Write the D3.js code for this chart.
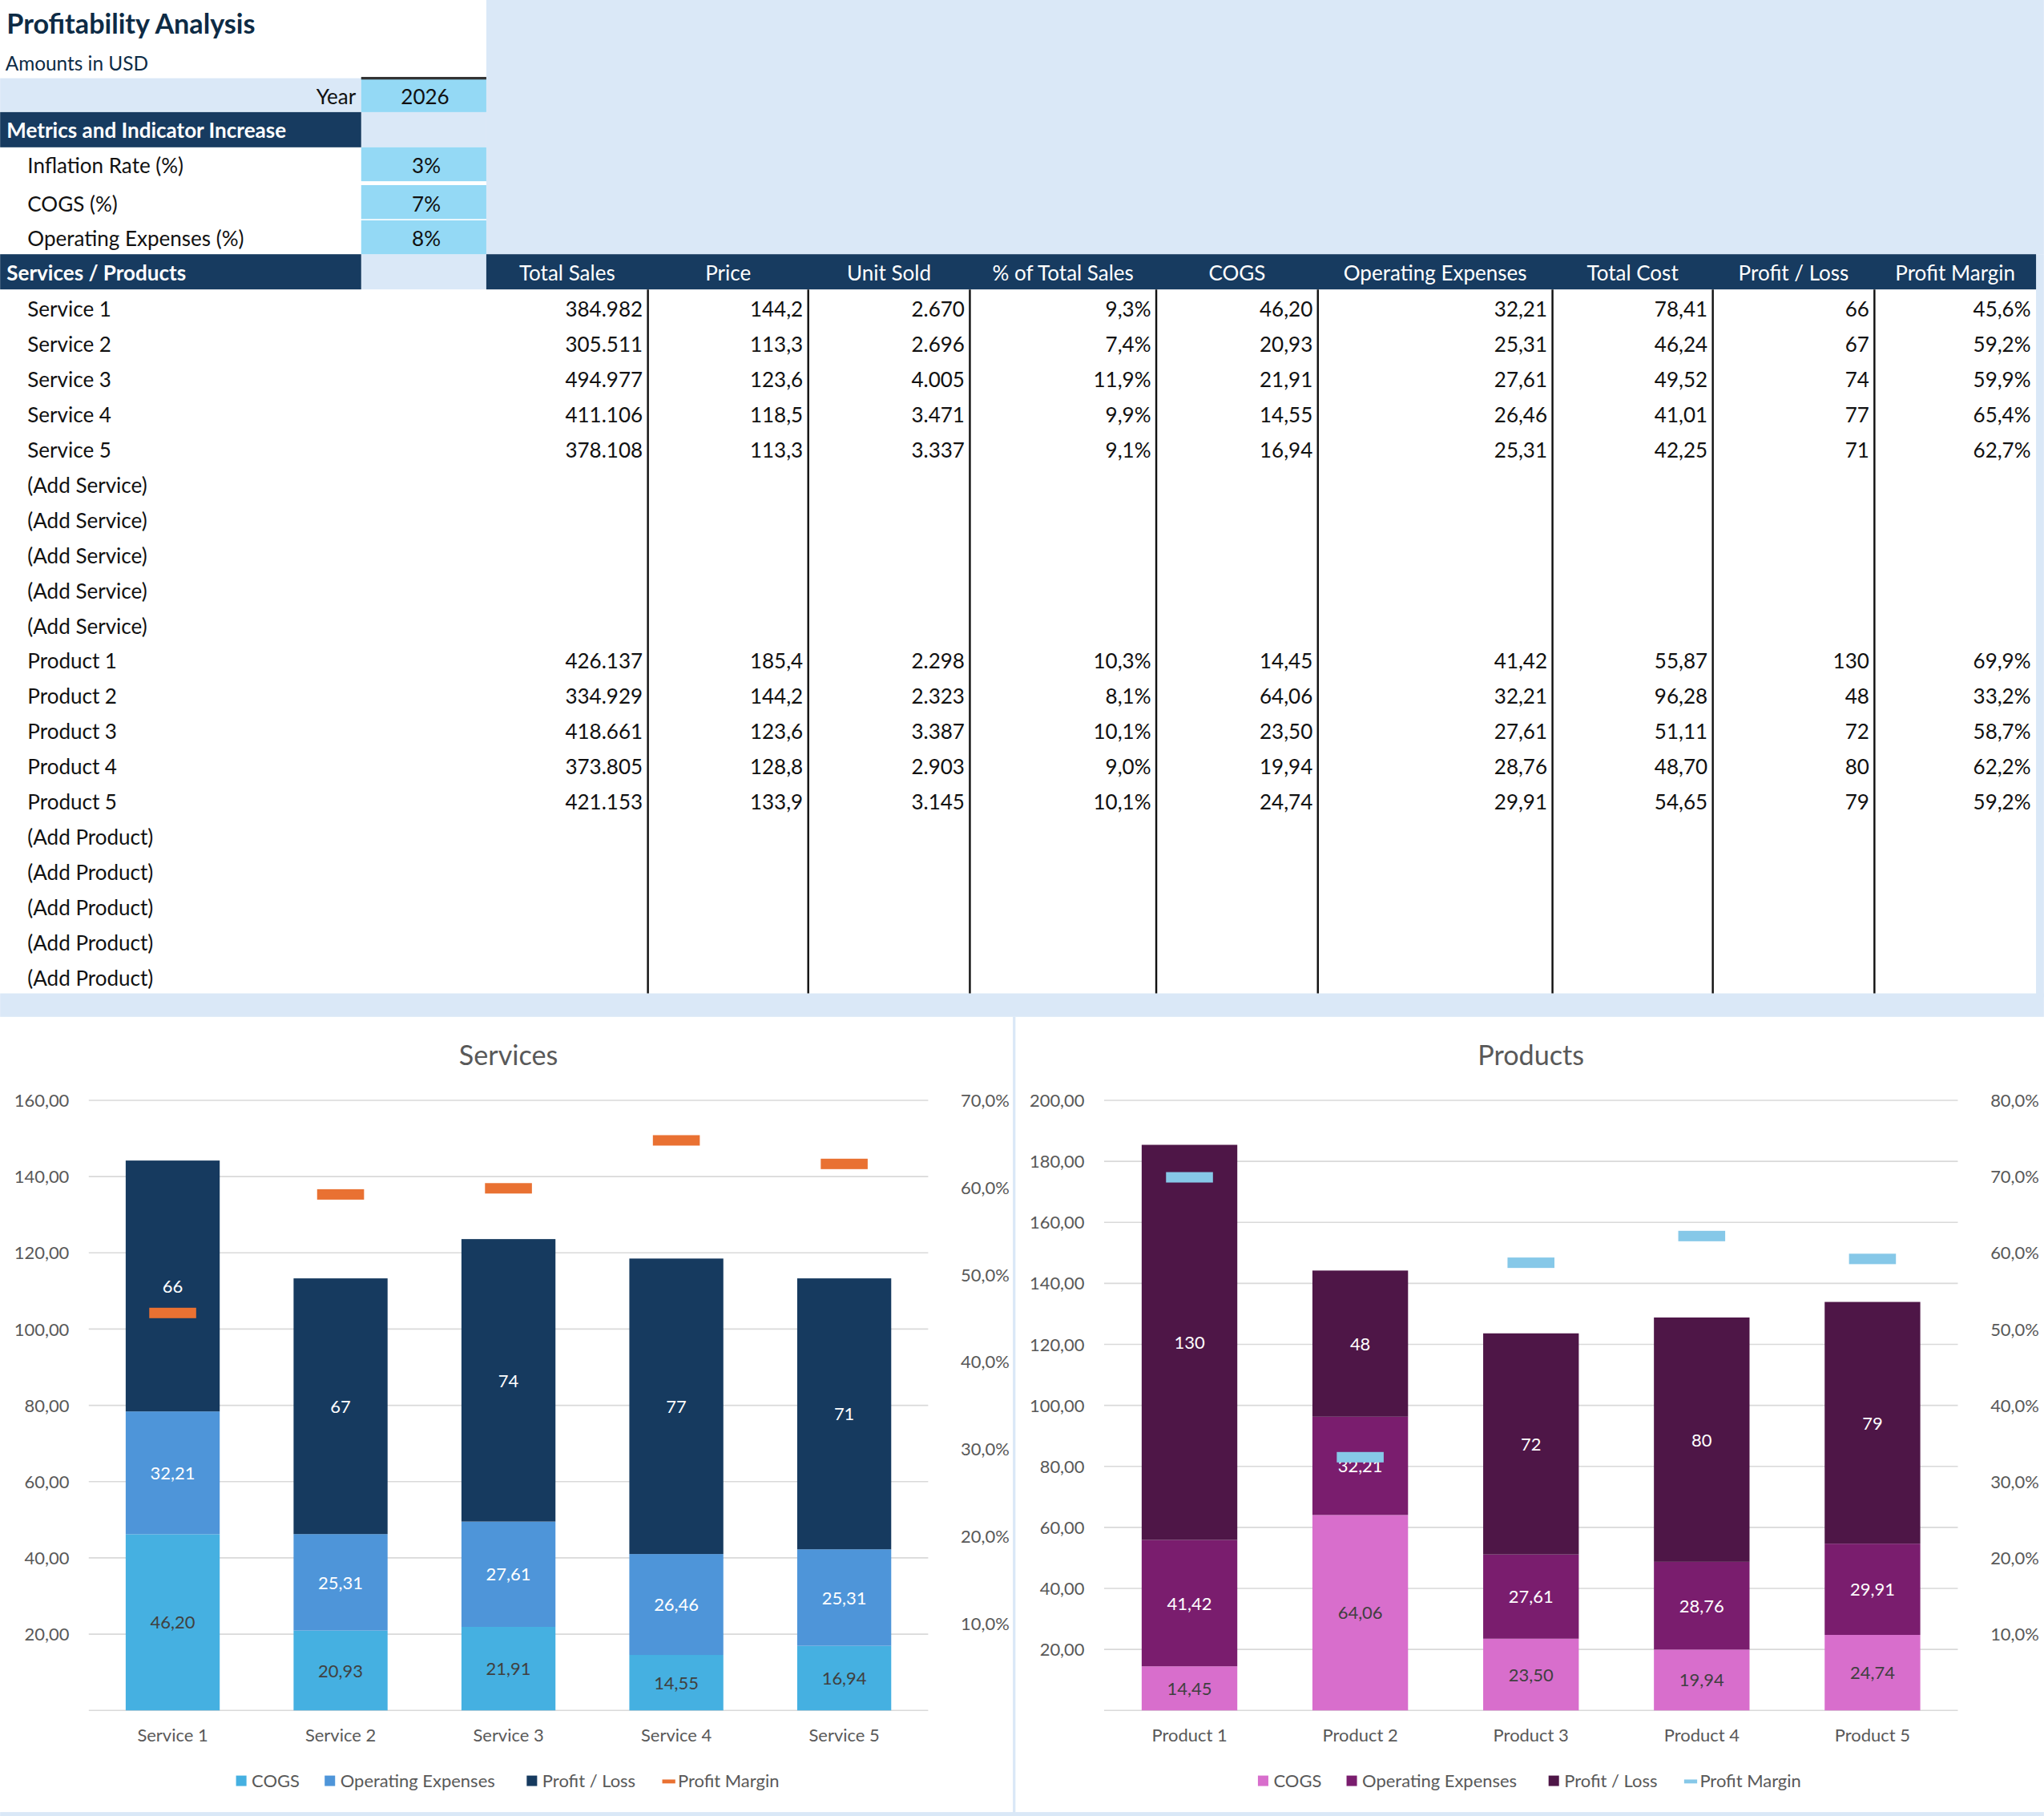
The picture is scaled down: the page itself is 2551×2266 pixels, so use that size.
<!DOCTYPE html>
<html><head><meta charset="utf-8">
<script src="https://cdn.jsdelivr.net/npm/d3@7"></script>
<style>
body{margin:0;background:#fff}
text{font-family:Lato,"Open Sans",sans-serif}
</style></head><body>
<script>
// datos de la tabla
var columnas = ["Total Sales","Price","Unit Sold","% of Total Sales","COGS","Operating Expenses","Total Cost","Profit / Loss","Profit Margin"];
var filas = ["Service 1","Service 2","Service 3","Service 4","Service 5","(Add Service)","(Add Service)","(Add Service)","(Add Service)","(Add Service)",
  "Product 1","Product 2","Product 3","Product 4","Product 5","(Add Product)","(Add Product)","(Add Product)","(Add Product)","(Add Product)"];
var totalSales = ["384.982","305.511","494.977","411.106","378.108","","","","","","426.137","334.929","418.661","373.805","421.153"];
var precio = ["144,2","113,3","123,6","118,5","113,3","","","","","","185,4","144,2","123,6","128,8","133,9"];
var unidades = ["2.670","2.696","4.005","3.471","3.337","","","","","","2.298","2.323","3.387","2.903","3.145"];
var pctVentas = ["9,3%","7,4%","11,9%","9,9%","9,1%","","","","","","10,3%","8,1%","10,1%","9,0%","10,1%"];
var cogsTxt = ["46,20","20,93","21,91","14,55","16,94","","","","","","14,45","64,06","23,50","19,94","24,74"];
var opexTxt = ["32,21","25,31","27,61","26,46","25,31","","","","","","41,42","32,21","27,61","28,76","29,91"];
var costeTxt = ["78,41","46,24","49,52","41,01","42,25","","","","","","55,87","96,28","51,11","48,70","54,65"];
var beneficioTxt = ["66","67","74","77","71","","","","","","130","48","72","80","79"];
var margenTxt = ["45,6%","59,2%","59,9%","65,4%","62,7%","","","","","","69,9%","33,2%","58,7%","62,2%","59,2%"];

// datos de las graficas
var servicios = ["Service 1","Service 2","Service 3","Service 4","Service 5"];
var servCogs = [46.20,20.93,21.91,14.55,16.94];
var servOpex = [32.21,25.31,27.61,26.46,25.31];
var servProfit = [65.79,67.06,74.08,77.49,71.05];
var servMargen = [0.456,0.592,0.599,0.654,0.627];
var productos = ["Product 1","Product 2","Product 3","Product 4","Product 5"];
var prodCogs = [14.45,64.06,23.50,19.94,24.74];
var prodOpex = [41.42,32.21,27.61,28.76,29.91];
var prodProfit = [129.53,47.92,72.49,80.10,79.25];
var prodMargen = [0.699,0.332,0.587,0.622,0.592];

var W = 1568, H = 1393;
var azulOsc = '#173b60', azulClaro = '#dae8f7', cian = '#94d9f5', tinta = '#0d2b45';

var svg = d3.select('body').append('svg')
  .attr('width',2551).attr('height',2266)
  .attr('viewBox','0 0 '+W+' '+H);

// fondos
svg.append('rect').attr('x',0).attr('y',0).attr('width',W).attr('height',H).attr('fill','#fff');
svg.append('rect').attr('x',373).attr('y',0).attr('width',W-373).attr('height',195).attr('fill',azulClaro);
svg.append('rect').attr('x',0).attr('y',60).attr('width',277).attr('height',26).attr('fill',azulClaro);
svg.append('rect').attr('x',277).attr('y',86).attr('width',96).attr('height',27).attr('fill',azulClaro);
svg.append('rect').attr('x',277).attr('y',195).attr('width',96).attr('height',27).attr('fill',azulClaro);
svg.append('rect').attr('x',1562).attr('y',195).attr('width',6).attr('height',570).attr('fill',azulClaro);
svg.append('rect').attr('x',0).attr('y',762).attr('width',W).attr('height',18).attr('fill',azulClaro);
svg.append('rect').attr('x',777).attr('y',780).attr('width',2).attr('height',H-780).attr('fill',azulClaro);
svg.append('rect').attr('x',0).attr('y',1390).attr('width',W).attr('height',3).attr('fill',azulClaro);

svg.append('text').text('Profitability Analysis').attr('x',5).attr('y',26)
  .attr('font-size',21).attr('font-weight','bold').attr('fill',tinta);
svg.append('text').text('Amounts in USD').attr('x',4).attr('y',54).attr('font-size',15).attr('fill',tinta);

// year + inputs
svg.append('rect').attr('x',277).attr('y',60).attr('width',96).attr('height',26).attr('fill',cian);
svg.append('rect').attr('x',277).attr('y',59).attr('width',96).attr('height',2).attr('fill','#333');
svg.append('text').text('Year').attr('x',273).attr('y',80).attr('text-anchor','end').attr('font-size',16).attr('fill','#111');
svg.append('text').text('2026').attr('x',326).attr('y',80).attr('text-anchor','middle').attr('font-size',16).attr('fill','#111');
svg.append('rect').attr('x',0).attr('y',86).attr('width',277).attr('height',27).attr('fill',azulOsc);
svg.append('text').text('Metrics and Indicator Increase').attr('x',5).attr('y',106)
  .attr('font-size',16).attr('font-weight','bold').attr('fill','#fff');

var entradas = [['Inflation Rate (%)','3%',113],['COGS (%)','7%',142],['Operating Expenses (%)','8%',169]];
entradas.forEach(function(e){
  svg.append('rect').attr('x',277).attr('y',e[2]).attr('width',96).attr('height',26).attr('fill',cian);
  svg.append('text').text(e[0]).attr('x',21).attr('y',e[2]+20).attr('font-size',16).attr('fill','#111');
  svg.append('text').text(e[1]).attr('x',327).attr('y',e[2]+20).attr('text-anchor','middle').attr('font-size',16).attr('fill','#111');
});

// cabecera tabla
var bordes = [373,497,620,744,887,1011,1191,1314,1438,1562];
svg.append('rect').attr('x',0).attr('y',195).attr('width',277).attr('height',27).attr('fill',azulOsc);
svg.append('rect').attr('x',373).attr('y',195).attr('width',1562-373).attr('height',27).attr('fill',azulOsc);
svg.append('text').text('Services / Products').attr('x',5).attr('y',215)
  .attr('font-size',16).attr('font-weight','bold').attr('fill','#fff');
columnas.forEach(function(c,i){
  svg.append('text').text(c).attr('x',(bordes[i]+bordes[i+1])/2).attr('y',215)
    .attr('text-anchor','middle').attr('font-size',16).attr('fill','#fff');
});
bordes.slice(1,9).forEach(function(x){
  svg.append('line').attr('x1',x).attr('x2',x).attr('y1',222).attr('y2',762).attr('stroke','#111').attr('stroke-width',1.5);
});

var escalaFila = d3.scaleLinear().domain([0,19]).range([243,756]);
var valores = [totalSales,precio,unidades,pctVentas,cogsTxt,opexTxt,costeTxt,beneficioTxt,margenTxt];
filas.forEach(function(f,i){
  svg.append('text').text(f).attr('x',21).attr('y',escalaFila(i)).attr('font-size',16).attr('fill','#111');
  valores.forEach(function(v,j){
    if(v[i]) svg.append('text').text(v[i]).attr('x',bordes[j+1]-4).attr('y',escalaFila(i))
      .attr('text-anchor','end').attr('font-size',16).attr('fill','#111');
  });
});

// graficas
function grafica(cfg){
  var g = svg.append('g');
  var x = d3.scaleBand().domain(cfg.cats).range([cfg.x0,cfg.x1]).paddingInner(0.44).paddingOuter(0.22);
  var y = d3.scaleLinear().domain([0,cfg.max]).range([1312,844]);
  var y2 = d3.scaleLinear().domain([0,cfg.maxPct]).range([1312,844]);
  g.append('text').text(cfg.titulo).attr('x',(cfg.x0+cfg.x1)/2).attr('y',817)
    .attr('text-anchor','middle').attr('font-size',21).attr('fill','#595959');
  var ticks = d3.range(cfg.paso,cfg.max+0.1,cfg.paso);
  ticks.forEach(function(t){
    g.append('line').attr('x1',cfg.x0).attr('x2',cfg.x1).attr('y1',y(t)).attr('y2',y(t)).attr('stroke','#d9d9d9');
    g.append('text').text(d3.format('.2f')(t).replace('.',',')).attr('x',cfg.x0-15).attr('y',y(t)+5)
      .attr('text-anchor','end').attr('font-size',13.5).attr('fill','#595959');
  });
  d3.range(0.1,cfg.maxPct+0.001,0.1).forEach(function(t){
    g.append('text').text(d3.format('.1f')(t*100).replace('.',',')+'%').attr('x',cfg.x1+25).attr('y',y2(t)+5)
      .attr('text-anchor','start').attr('font-size',13.5).attr('fill','#595959');
  });
  g.append('line').attr('x1',cfg.x0).attr('x2',cfg.x1).attr('y1',1312).attr('y2',1312).attr('stroke','#d9d9d9');

  var datos = cfg.cats.map(function(c,i){return {cat:c,cogs:cfg.cogs[i],opex:cfg.opex[i],profit:cfg.profit[i]};});
  var pila = d3.stack().keys(['cogs','opex','profit'])(datos);
  var textoCol = [cfg.txtCogs,'#fff','#fff'];
  pila.forEach(function(serie,k){
    g.selectAll(null).data(serie).enter().append('rect')
      .attr('x',d=>x(d.data.cat)).attr('width',x.bandwidth())
      .attr('y',d=>y(d[1])).attr('height',d=>y(d[0])-y(d[1]))
      .attr('fill',cfg.colores[k]);
    g.selectAll(null).data(serie).enter().append('text')
      .text(d=>k==2?d3.format('.0f')(d[1]-d[0]):d3.format('.2f')(d[1]-d[0]).replace('.',','))
      .attr('x',d=>x(d.data.cat)+x.bandwidth()/2).attr('y',d=>(y(d[0])+y(d[1]))/2+5)
      .attr('text-anchor','middle').attr('font-size',13.5).attr('fill',textoCol[k]);
  });
  g.selectAll(null).data(cfg.margen).enter().append('rect')
    .attr('x',(d,i)=>x(cfg.cats[i])+x.bandwidth()/2-18).attr('width',36)
    .attr('y',d=>y2(d)-4).attr('height',8).attr('fill',cfg.colores[3]);
  cfg.cats.forEach(function(c){
    g.append('text').text(c).attr('x',x(c)+x.bandwidth()/2).attr('y',1336)
      .attr('text-anchor','middle').attr('font-size',13.5).attr('fill','#595959');
  });
  // leyenda
  var ley = [['COGS',0],['Operating Expenses',1],['Profit / Loss',2],['Profit Margin',3]];
  var lx = cfg.leyX;
  var anchos = [68,155,104,100];
  ley.forEach(function(l,i){
    if(i<3) g.append('rect').attr('x',lx).attr('y',1362).attr('width',8).attr('height',8).attr('fill',cfg.colores[i]);
    else g.append('rect').attr('x',lx).attr('y',1365).attr('width',10).attr('height',3).attr('fill',cfg.colores[i]);
    g.append('text').text(l[0]).attr('x',lx+12).attr('y',1371).attr('font-size',13.5).attr('fill','#595959');
    lx += anchos[i];
  });
}

grafica({titulo:'Services',cats:servicios,cogs:servCogs,opex:servOpex,profit:servProfit,margen:servMargen,
  x0:68,x1:712,max:160,paso:20,maxPct:0.7,leyX:181,txtCogs:'#404040',
  colores:['#45b0e1','#4e95d9','#163a5f','#e97132']});
grafica({titulo:'Products',cats:productos,cogs:prodCogs,opex:prodOpex,profit:prodProfit,margen:prodMargen,
  x0:847,x1:1502,max:200,paso:20,maxPct:0.8,leyX:965,txtCogs:'#404040',
  colores:['#d86ecc','#7a1d6e','#4e1647','#86c8e8']});
</script>
</body></html>
